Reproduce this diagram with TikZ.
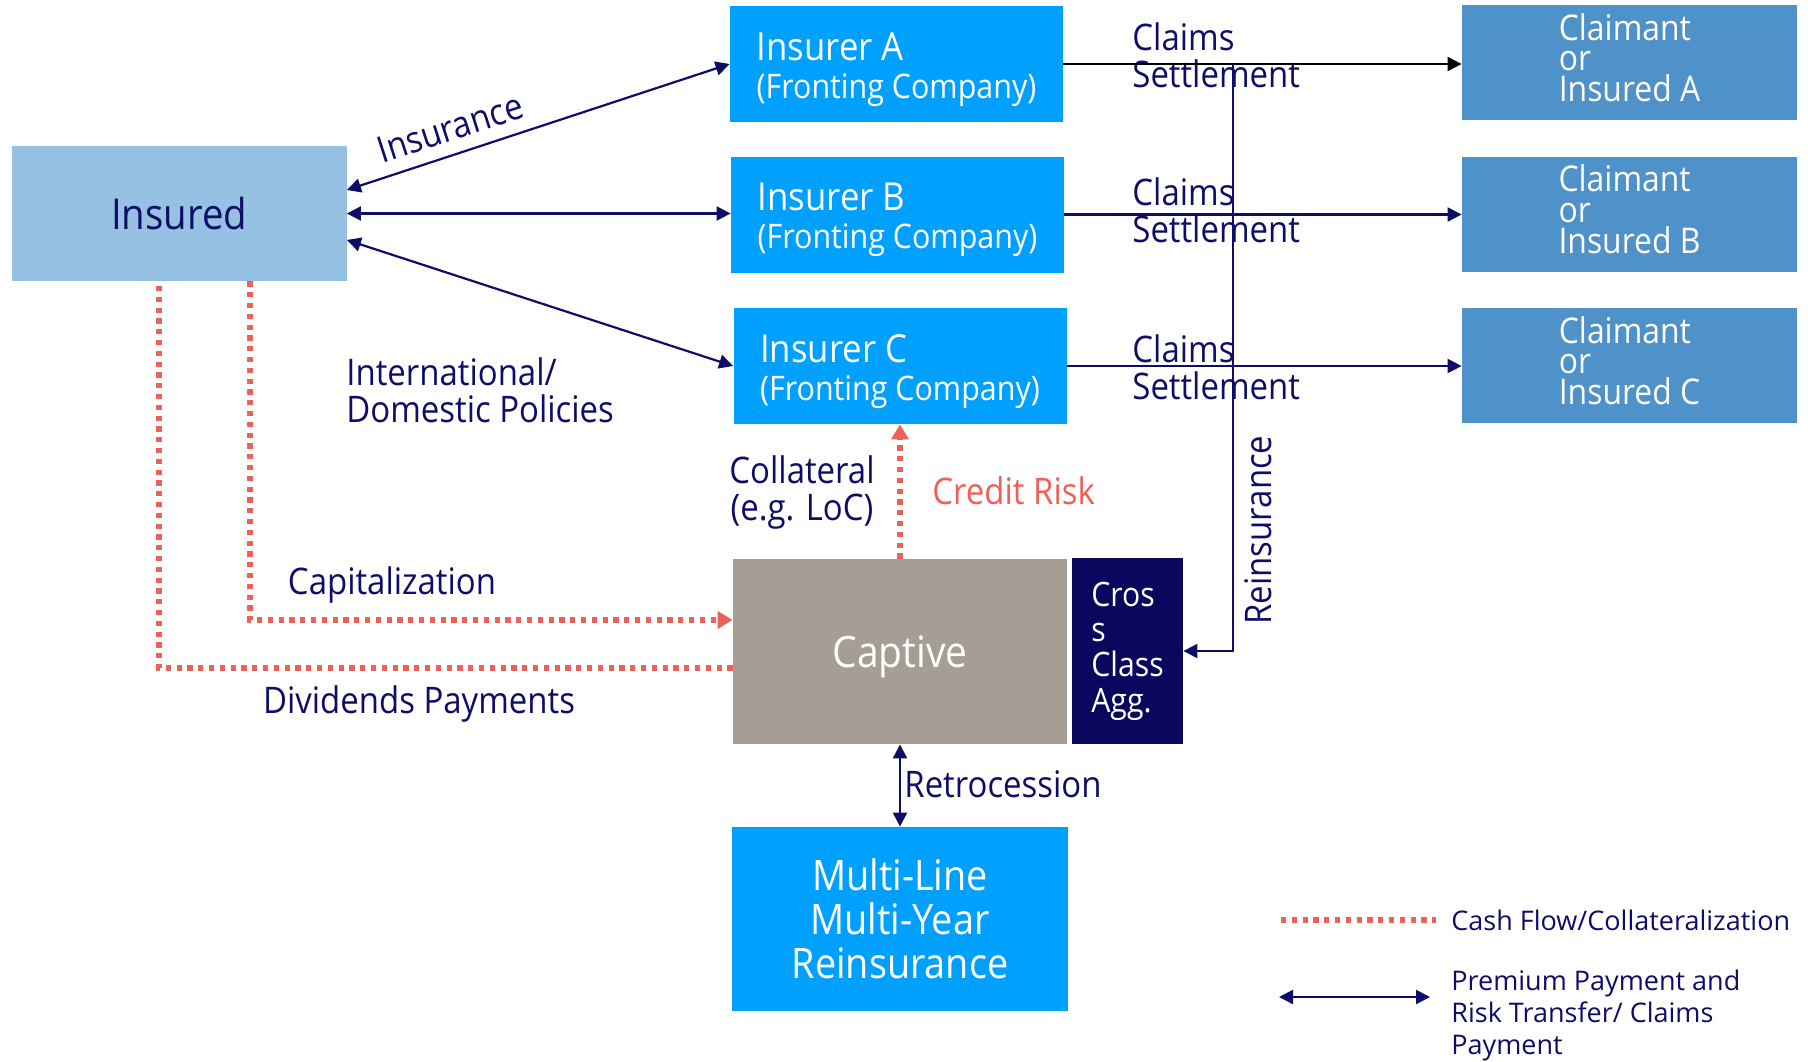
\documentclass[tikz,border=0pt]{standalone}
\usepackage{fontspec}
\setmainfont{Open Sans}[FakeStretch=0.9]
\newfontfamily\keyfont{Open Sans}
\usetikzlibrary{arrows.meta,calc}
\definecolor{ink}{RGB}{14,14,104}
\definecolor{insuredfill}{RGB}{151,193,227}
\definecolor{brightblue}{RGB}{0,160,254}
\definecolor{steelblue}{RGB}{79,145,201}
\definecolor{captivefill}{RGB}{166,158,149}
\definecolor{darknavy}{RGB}{10,8,94}
\definecolor{cashred}{RGB}{238,96,90}
% two-line insurer caption: larger name over the smaller role
\newcommand{\insurertext}[1]{{\fontsize{19.3}{19}\selectfont\rule{0pt}{19.1pt}#1}\\(Fronting Company)}
% three-line claimant caption, lifted slightly by a deeper last line
\newcommand{\claimtext}[1]{Claimant\\or\\Insured #1\rule[-5pt]{0pt}{5pt}}
\begin{document}
\begin{tikzpicture}[x=0.5pt,y=-0.5pt,
  block/.style={draw=none, inner sep=0pt, align=left, text=white},
  insurer/.style={block, fill=brightblue, font=\fontsize{16.9}{19}\selectfont,
    minimum width=166.5pt, minimum height=58pt},
  claimant/.style={block, fill=steelblue, font=\fontsize{17.7}{15.4}\selectfont,
    minimum width=167.5pt, minimum height=57.5pt},
  lbl/.style={inner sep=0pt, text=ink, font=\fontsize{18.3}{18.5}\selectfont, align=left},
  keytext/.style={inner sep=0pt, text=ink, align=left, font=\keyfont\fontsize{13.5}{16}\selectfont},
  flow/.style={draw=ink, line width=1.1pt, {Triangle[length=7pt,width=7pt]}-{Triangle[length=7pt,width=7pt]}},
  oneway/.style={draw=ink, line width=1.1pt, -{Triangle[length=7pt,width=7pt]}},
  cash/.style={draw=cashred, line width=2.6pt, dash pattern=on 2.6pt off 2.8pt},
  cashtip/.style={-{Triangle[length=7.5pt,width=8.5pt]}},
]
\fill[white] (0,0) rectangle (1808,1061);
\useasboundingbox (0,0) rectangle (1808,1061);

% main boxes
\node[block, fill=insuredfill, text=ink, align=center, font=\fontsize{21.3}{22}\selectfont,
  minimum width=167.5pt, minimum height=67.5pt] (insured) at (179,213.5) {Insured};

\node[insurer] (insA) at (896.5,64) {\insurertext{Insurer A}};
\node[insurer] (insB) at (897.5,214.5) {\insurertext{Insurer B}};
\node[insurer] (insC) at (900,366) {\insurertext{Insurer C}};

\node[claimant] (claimA) at (1629.5,62.5) {\claimtext{A}};
\node[claimant] (claimB) at (1629.5,214) {\claimtext{B}};
\node[claimant] (claimC) at (1629.5,365.5) {\claimtext{C}};

\node[block, fill=captivefill, align=center, font=\fontsize{21.6}{22}\selectfont, text depth=0pt,
  minimum width=167pt, minimum height=92.5pt] (captive) at (900,651.5) {Captive};
\node[block, fill=darknavy, font=\fontsize{16.8}{17.7}\selectfont,
  minimum width=55.5pt, minimum height=93pt] (cross) at (1127.5,651) {Cros\\s\\Class\\Agg.};
\node[block, fill=brightblue, align=center, font=\fontsize{21}{22}\selectfont,
  minimum width=168pt, minimum height=92pt] (multi) at (900,919) {Multi-Line\\Multi-Year\\Reinsurance};

% labels
\node[lbl, rotate=18] (lblins) at (450,128) {Insurance};
\node[lbl, anchor=west] (lblintl) at (346,390) {International/\\Domestic Policies};
\node[lbl, anchor=west] (lblclA) at (1132,55) {Claims\\Settlement};
\node[lbl, anchor=west] (lblclB) at (1132,210) {Claims\\Settlement};
\node[lbl, anchor=west] (lblclC) at (1132,367) {Claims\\Settlement};
\node[lbl, align=center] (lblcoll) at (802,492) {Collateral\\(e.g. LoC)};
\node[lbl, text=cashred, anchor=west] (lblcredit) at (932,491) {Credit Risk};
\node[lbl] (lblcap) at (392,585) {Capitalization};
\node[lbl] (lbldiv) at (419,704) {Dividends Payments};
\node[lbl, anchor=west] (lblretro) at (904,784) {Retrocession};
\node[lbl, rotate=90] (lblreins) at (1258,530) {Reinsurance};

% insurance relations
\draw[flow] ([yshift=11.75pt]insured.east) -- (insA.west);
\draw[flow] (insured.east) -- (insured.east -| insB.west);
\draw[flow] ([yshift=-13.25pt]insured.east) -- (insC.west);

% claims settlement
\draw[draw=black, line width=1.1pt, -{Triangle[length=7pt,width=7pt]}] (insA.east) -- (insA.east -| claimA.west);
\draw[oneway] (insB.east) -- (insB.east -| claimB.west);
\draw[oneway] (insC.east) -- (insC.east -| claimC.west);

% reinsurance back to the captive
\coordinate (rtop) at (1233,64);
\draw[oneway] (rtop) |- (cross.east);

% retrocession
\draw[flow] (captive.south) -- (multi.north);

% cash flows
\draw[cash, cashtip] (captive.north) -- (insC.south);
\draw[cash, cashtip] ([xshift=35.5pt]insured.south) |- ([yshift=15.75pt]captive.west);
\draw[cash] ([yshift=-8.25pt]captive.west) -| ([xshift=-10pt]insured.south);

% key
\coordinate (k1a) at (1281,920);
\coordinate (k1b) at (1436,920);
\draw[cash] (k1a) -- (k1b);
\node[keytext, anchor=west] (key1) at (1451,920) {Cash Flow/Collateralization};
\coordinate (k2a) at (1279,997);
\coordinate (k2b) at (1430,997);
\draw[flow] (k2a) -- (k2b);
\node[keytext, anchor=north west] (key2) at (1451,970) {Premium Payment and\\Risk Transfer/ Claims\\Payment};
\end{tikzpicture}
\end{document}
